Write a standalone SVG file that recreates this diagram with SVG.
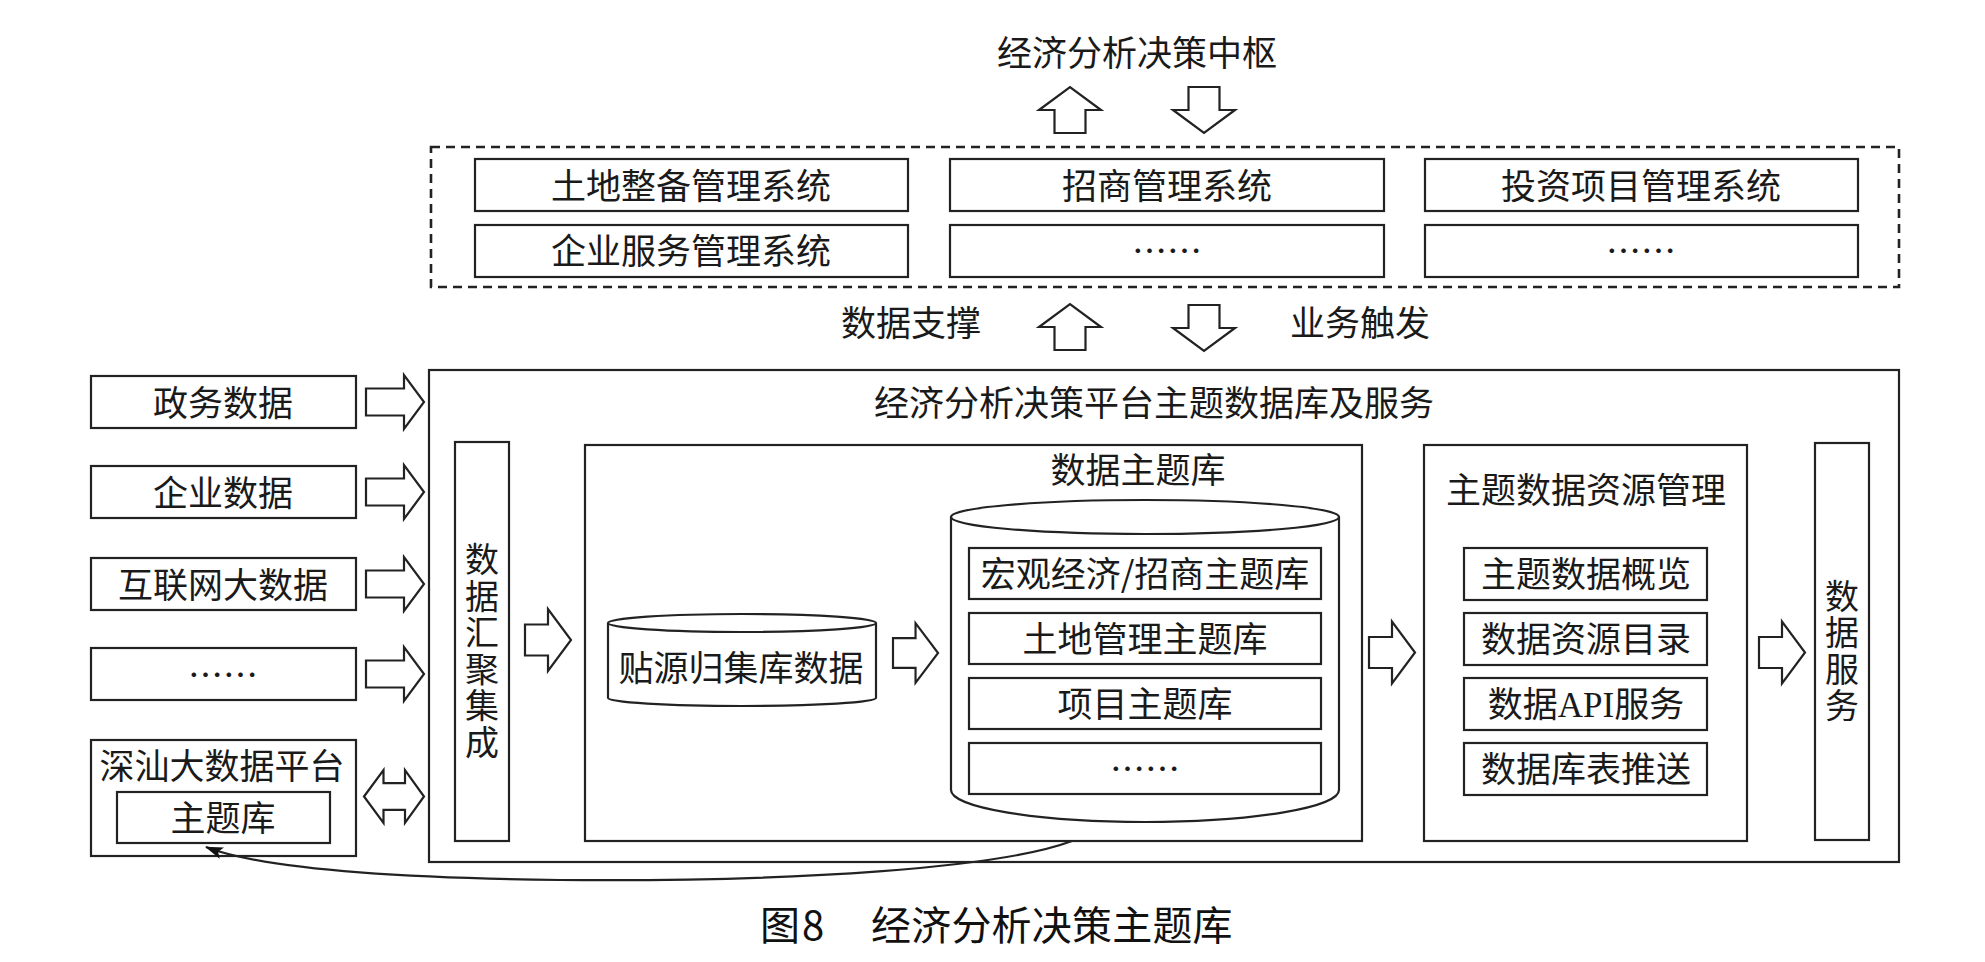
<svg xmlns="http://www.w3.org/2000/svg" width="1985" height="962" viewBox="0 0 1985 962">
<defs>
<style>
.bx{fill:#fff;stroke:#222;stroke-width:2.2}
.ln{fill:none;stroke:#222;stroke-width:2.2}
.dash{fill:none;stroke:#222;stroke-width:2.6;stroke-dasharray:9 6}
.ar{fill:#fff;stroke:#222;stroke-width:2.2;stroke-linejoin:miter}
.t{font-family:"Noto Sans CJK SC","Noto Sans CJK TC",sans-serif;font-size:35px;fill:#1a1a1a;text-anchor:middle}
.tv{font-family:"Noto Sans CJK SC","Noto Sans CJK TC",sans-serif;font-size:34px;fill:#1a1a1a;text-anchor:middle;writing-mode:vertical-rl;text-orientation:upright;letter-spacing:2.5px}
.lat{font-family:"Liberation Serif",serif}
.cap{font-family:"Noto Sans CJK SC",sans-serif;font-size:40px;fill:#111}
</style>
<path id="ra" d="M0,-15.5 H23 V-31 L46,0 L23,31 V15.5 H0 Z"/>
<path id="rs" d="M0,-13.5 H38 V-27 L58,0 L38,27 V13.5 H0 Z"/>
<marker id="ah" viewBox="0 0 18 12" refX="17" refY="6" markerWidth="18" markerHeight="12" markerUnits="userSpaceOnUse" orient="auto">
<path d="M0,0 L18,6 L0,12 L4,6 Z" fill="#111"/>
</marker>
</defs>
<rect width="1985" height="962" fill="#fff"/>

<g id="hub">
<text class="t" x="1137" y="66">经济分析决策中枢</text>
</g>

<g id="business-systems">
<rect class="dash" x="431" y="147" width="1468" height="140"/>
<g id="sys-land"><rect class="bx" x="475" y="159" width="433" height="52"/><text class="t" x="691" y="199">土地整备管理系统</text></g>
<g id="sys-invest"><rect class="bx" x="950" y="159" width="434" height="52"/><text class="t" x="1167" y="199">招商管理系统</text></g>
<g id="sys-project"><rect class="bx" x="1425" y="159" width="433" height="52"/><text class="t" x="1641" y="199">投资项目管理系统</text></g>
<g id="sys-enterprise"><rect class="bx" x="475" y="225" width="433" height="52"/><text class="t" x="691" y="264">企业服务管理系统</text></g>
<g id="sys-more1"><rect class="bx" x="950" y="225" width="434" height="52"/><text class="t" x="1167" y="264">……</text></g>
<g id="sys-more2"><rect class="bx" x="1425" y="225" width="433" height="52"/><text class="t" x="1641" y="264">……</text></g>
</g>

<g id="label-support"><text class="t" x="911" y="336">数据支撑</text></g>
<g id="label-trigger"><text class="t" x="1360" y="336">业务触发</text></g>

<g id="src-gov"><rect class="bx" x="91" y="376" width="265" height="52"/><text class="t" x="223" y="416">政务数据</text></g>
<g id="src-ent"><rect class="bx" x="91" y="466" width="265" height="52"/><text class="t" x="223" y="506">企业数据</text></g>
<g id="src-web"><rect class="bx" x="91" y="558" width="265" height="52"/><text class="t" x="223" y="598">互联网大数据</text></g>
<g id="src-more"><rect class="bx" x="91" y="648" width="265" height="52"/><text class="t" x="223" y="688">……</text></g>
<g id="shanshan">
<rect class="bx" x="91" y="740" width="265" height="116"/>
<text class="t" x="222" y="779">深汕大数据平台</text>
<rect class="bx" x="117" y="792" width="213" height="51"/>
<text class="t" x="223" y="831">主题库</text>
</g>

<g id="platform">
<rect class="bx" x="429" y="370" width="1470" height="492"/>
<text class="t" x="1154" y="416">经济分析决策平台主题数据库及服务</text>
</g>

<g id="aggregation">
<rect class="bx" x="455" y="442" width="54" height="399"/>
<text class="tv" x="482" y="652">数据汇聚集成</text>
</g>

<g id="theme-db">
<rect class="bx" x="585" y="445" width="777" height="396"/>
<text class="t" x="1138" y="483">数据主题库</text>
</g>

<g id="source-db">
<path class="bx" d="M608,623 V698 A134,8 0 0 0 876,698 V623"/>
<ellipse class="bx" cx="742" cy="623" rx="134" ry="9"/>
<text class="t" x="741" y="681">贴源归集库数据</text>
</g>

<g id="theme-cylinder">
<path class="bx" d="M951,517 V790 A194,32 0 0 0 1339,790 V517"/>
<ellipse class="bx" cx="1145" cy="517" rx="194" ry="17"/>
<g id="tb-macro"><rect class="bx" x="969" y="548" width="352" height="51"/><text class="t" x="1145" y="587">宏观经济/招商主题库</text></g>
<g id="tb-land"><rect class="bx" x="969" y="613" width="352" height="51"/><text class="t" x="1145" y="652">土地管理主题库</text></g>
<g id="tb-project"><rect class="bx" x="969" y="678" width="352" height="51"/><text class="t" x="1145" y="717">项目主题库</text></g>
<g id="tb-more"><rect class="bx" x="969" y="743" width="352" height="51"/><text class="t" x="1145" y="782">……</text></g>
</g>

<g id="resource-mgmt">
<rect class="bx" x="1424" y="445" width="323" height="396"/>
<text class="t" x="1586" y="503">主题数据资源管理</text>
<g id="rm-overview"><rect class="bx" x="1464" y="548" width="243" height="52"/><text class="t" x="1586" y="587">主题数据概览</text></g>
<g id="rm-catalog"><rect class="bx" x="1464" y="613" width="243" height="52"/><text class="t" x="1586" y="652">数据资源目录</text></g>
<g id="rm-api"><rect class="bx" x="1464" y="678" width="243" height="52"/><text class="t" x="1586" y="717">数据<tspan class="lat">API</tspan>服务</text></g>
<g id="rm-push"><rect class="bx" x="1464" y="743" width="243" height="52"/><text class="t" x="1586" y="782">数据库表推送</text></g>
</g>

<g id="data-service">
<rect class="bx" x="1815" y="443" width="54" height="397"/>
<text class="tv" x="1842" y="652">数据服务</text>
</g>

<g id="connectors">
<use href="#ra" class="ar" transform="translate(1070,133) rotate(-90)"/>
<use href="#ra" class="ar" transform="translate(1204,87) rotate(90)"/>
<use href="#ra" class="ar" transform="translate(1070,350) rotate(-90)"/>
<use href="#ra" class="ar" transform="translate(1204,305) rotate(90)"/>
<use href="#rs" class="ar" transform="translate(366,402)"/>
<use href="#rs" class="ar" transform="translate(366,492)"/>
<use href="#rs" class="ar" transform="translate(366,584)"/>
<use href="#rs" class="ar" transform="translate(366,674)"/>
<path class="ar" d="M364,796.5 L383.5,770.2 V783.2 H405 V770.2 L424,796.5 L405,822.8 V809.8 H383.5 V822.8 Z"/>
<use href="#ra" class="ar" transform="translate(525,640)"/>
<use href="#ra" class="ar" transform="translate(893,653) scale(0.98,0.96)"/>
<use href="#ra" class="ar" transform="translate(1369,652.5)"/>
<use href="#ra" class="ar" transform="translate(1759,652.5)"/>
<path class="ln" stroke-width="2.6" d="M1072,841 C1000,868 800,882 560,880 C380,878 260,868 206,847" marker-end="url(#ah)"/>
</g>

<g id="caption">
<text class="cap" y="940"><tspan x="760">图</tspan><tspan x="802">8</tspan><tspan x="871" letter-spacing="0.2">经济分析决策主题库</tspan></text>
</g>
</svg>
